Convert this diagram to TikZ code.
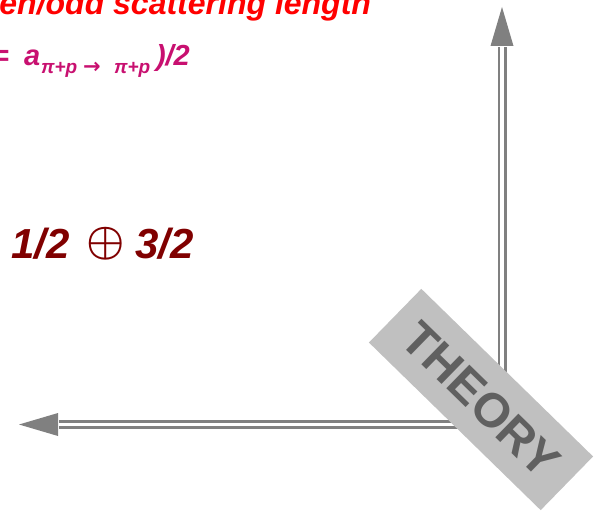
\documentclass[tikz,border=0pt]{standalone}
\usepackage{fontspec}
\setmainfont{Liberation Sans}
\newfontfamily\dejavu{DejaVu Sans}
\definecolor{topred}{RGB}{255,0,0}
\definecolor{magen}{RGB}{200,16,112}
\definecolor{darkred}{RGB}{128,0,0}
\definecolor{arrowgray}{RGB}{128,128,128}
\definecolor{boxgray}{RGB}{192,192,192}
\definecolor{textgray}{RGB}{96,96,96}
\tikzset{
  lbl/.style={inner sep=0pt, outer sep=0pt},
  titletext/.style={lbl, text=topred, font=\fontsize{32}{32}\selectfont\bfseries\itshape},
  eqtext/.style={lbl, text=magen, font=\fontsize{29}{29}\selectfont\bfseries\itshape},
  subtext/.style={lbl, text=magen, font=\fontsize{19}{19}\selectfont\bfseries\itshape},
  bigtext/.style={lbl, text=darkred, font=\fontsize{42}{42}\selectfont\bfseries\itshape},
  dblline/.style={draw=arrowgray, line width=2.6pt, double=white, double distance=3.8pt},
  headfill/.style={fill=arrowgray},
  stamp/.style={fill=boxgray, text=textgray, inner sep=0pt, minimum width=240pt, minimum height=75pt, font=\fontsize{48}{48}\selectfont\bfseries}
}
\begin{document}
\begin{tikzpicture}[x=1pt,y=-1pt]
\useasboundingbox (0,0) rectangle (602,511);
% axes
\coordinate (corner) at (502,424.5);
\coordinate (uptip) at (502,7);
\coordinate (upbase) at (502,46);
\coordinate (lefttip) at (19,424.5);
\coordinate (leftbase) at (58,424.5);
\draw[dblline] ([xshift=1pt]leftbase) -- (corner) -- ([yshift=-1pt]upbase);
\fill[headfill] (uptip) -- ([xshift=-11.5pt]upbase) -- ([xshift=11.5pt]upbase) -- cycle;
\fill[headfill] (lefttip) -- ([yshift=-11.5pt]leftbase) -- ([yshift=11.5pt]leftbase) -- cycle;
% stamp
\node[stamp, rotate=-44.3] (theory) at (481,399.5) {THEORY};
% texts
\node[titletext, anchor=base east] (title) at (371,15) {en/odd scattering length};
\node[eqtext, anchor=base east] (eq) at (9,66) {=};
\node[eqtext, anchor=base west] (asym) at (24,66) {a};
\node[subtext, anchor=base west] (sub1) at (41,74) {π+p};
\node[lbl, text=magen, font=\dejavu\bfseries\fontsize{21}{21}\selectfont, anchor=base west] (subarrow) at (83,74) {→};
\node[subtext, anchor=base west] (sub2) at (114,74) {π+p};
\node[eqtext, anchor=base west] (close) at (156,66) {)/2};
\node[bigtext, anchor=base west] (half) at (11,258) {1/2};
\node[lbl, text=darkred] (oplus) at (105.5,244) {\scalebox{4.3}{\boldmath$\oplus$}};
\node[bigtext, anchor=base west] (threehalf) at (135,258) {3/2};
\end{tikzpicture}
\end{document}
